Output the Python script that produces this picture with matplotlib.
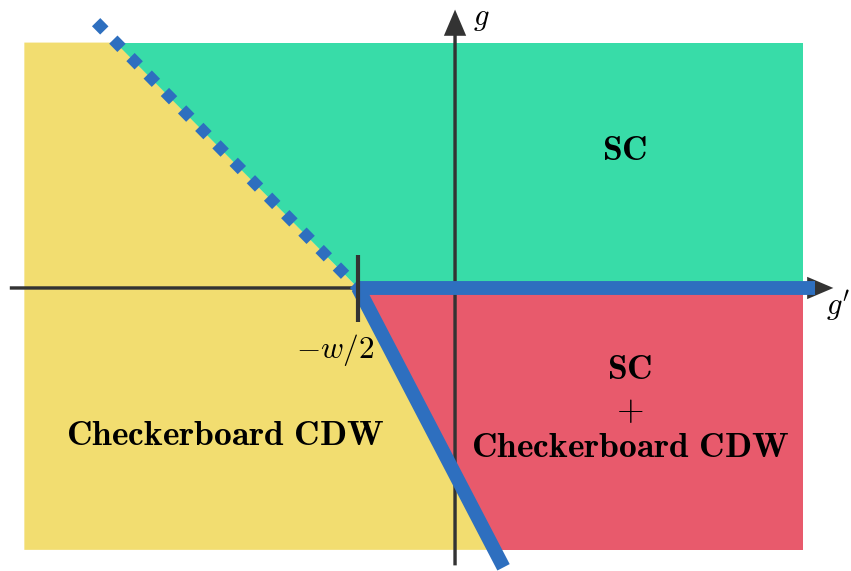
"""
Phase diagram in the (g', g) plane: SC, checkerboard CDW and coexistence.
"""

import matplotlib
matplotlib.use("Agg")
import matplotlib.pyplot as plt

plt.rcParams["mathtext.fontset"] = "cm"

# phase boundaries (units of w/2)
W_HALF = 1.0                 # critical point sits at g' = -w/2
UPPER_SLOPE = -1.015         # SC / CDW boundary above g = 0 (first order, dotted)
LOWER_SLOPE = -1.92          # coexistence / CDW boundary below g = 0

# extent of the shaded region
GP_RANGE = (-4.44, 3.59)
G_RANGE = (-2.70, 2.53)

# how far each boundary line is drawn
UPPER_END_GP = -3.70
LOWER_END_G = -2.88
FLAT_END_GP = 3.71

# axes
XLIM = (-4.691, 4.082)
YLIM = (-2.918, 2.969)
XAXIS_SPAN = (-4.59, 3.90)
YAXIS_SPAN = (-2.86, 2.87)

PHASE_LABELS = [
    ("SC", 1.75, 1.42),
    ("SC", 1.80, -0.84),
    ("+", 1.80, -1.26),
    ("Checkerboard CDW", 1.80, -1.64),
    ("Checkerboard CDW", -2.37, -1.52),
]

YELLOW = "#F2DD70"
GREEN = "#38DCA8"
RED = "#E85A6C"
BLUE = "#2E6FBF"
DARK = "#333333"


def bold(s):
    return r"$\mathbf{" + s.replace(" ", r"\ ") + "}$"


def main():
    fig = plt.figure(figsize=(8.51, 5.71), dpi=100)
    ax = fig.add_axes([0, 0, 1, 1])
    ax.set_xlim(*XLIM)
    ax.set_ylim(*YLIM)
    ax.axis("off")

    x0, x1 = GP_RANGE
    y0, y1 = G_RANGE
    xc = -W_HALF
    x_top = xc + y1 / UPPER_SLOPE
    x_bot = xc + y0 / LOWER_SLOPE

    ax.fill([x0, x_top, xc, x_bot, x0], [y1, y1, 0, y0, y0], color=YELLOW, lw=0)
    ax.fill([x_top, x1, x1, xc], [y1, y1, 0, 0], color=GREEN, lw=0)
    ax.fill([xc, x1, x1, x_bot], [0, 0, y0, y0], color=RED, lw=0)

    # coordinate axes with arrow heads
    ax.arrow(XAXIS_SPAN[0], 0, XAXIS_SPAN[1] - XAXIS_SPAN[0], 0, width=0.035,
             head_width=0.23, head_length=0.27, length_includes_head=True,
             color=DARK, lw=0, zorder=3)
    ax.arrow(0, YAXIS_SPAN[0], 0, YAXIS_SPAN[1] - YAXIS_SPAN[0], width=0.035,
             head_width=0.23, head_length=0.27, length_includes_head=True,
             color=DARK, lw=0, zorder=3)

    # phase boundaries
    ax.plot([xc, FLAT_END_GP], [0, 0], color=BLUE, lw=10, solid_capstyle="butt", zorder=4)
    ax.plot([xc, xc + LOWER_END_G / LOWER_SLOPE], [0, LOWER_END_G], color=BLUE, lw=10,
            solid_capstyle="butt", zorder=4)
    ax.plot([UPPER_END_GP, xc], [UPPER_SLOPE * (UPPER_END_GP - xc), 0], color=BLUE, lw=8.4,
            dashes=(1, 1.1), dash_capstyle="butt", zorder=4)

    # tick at -w/2
    ax.plot([xc, xc], [-0.35, 0.34], color=DARK, lw=3, solid_capstyle="butt", zorder=5)

    ax.text(-1.24, -0.64, r"$-w/2$", fontsize=22.5, ha="center", va="center")
    ax.text(0.27, 2.78, r"$g$", fontsize=22, ha="center", va="center")
    ax.text(3.95, -0.18, r"$g'$", fontsize=22, ha="center", va="center")

    for label, x, y in PHASE_LABELS:
        ax.text(x, y, bold(label), fontsize=25.5, ha="center", va="center",
                color="black", zorder=6)

    fig.savefig("out.png", dpi=100)
    plt.close(fig)


if __name__ == "__main__":
    main()
